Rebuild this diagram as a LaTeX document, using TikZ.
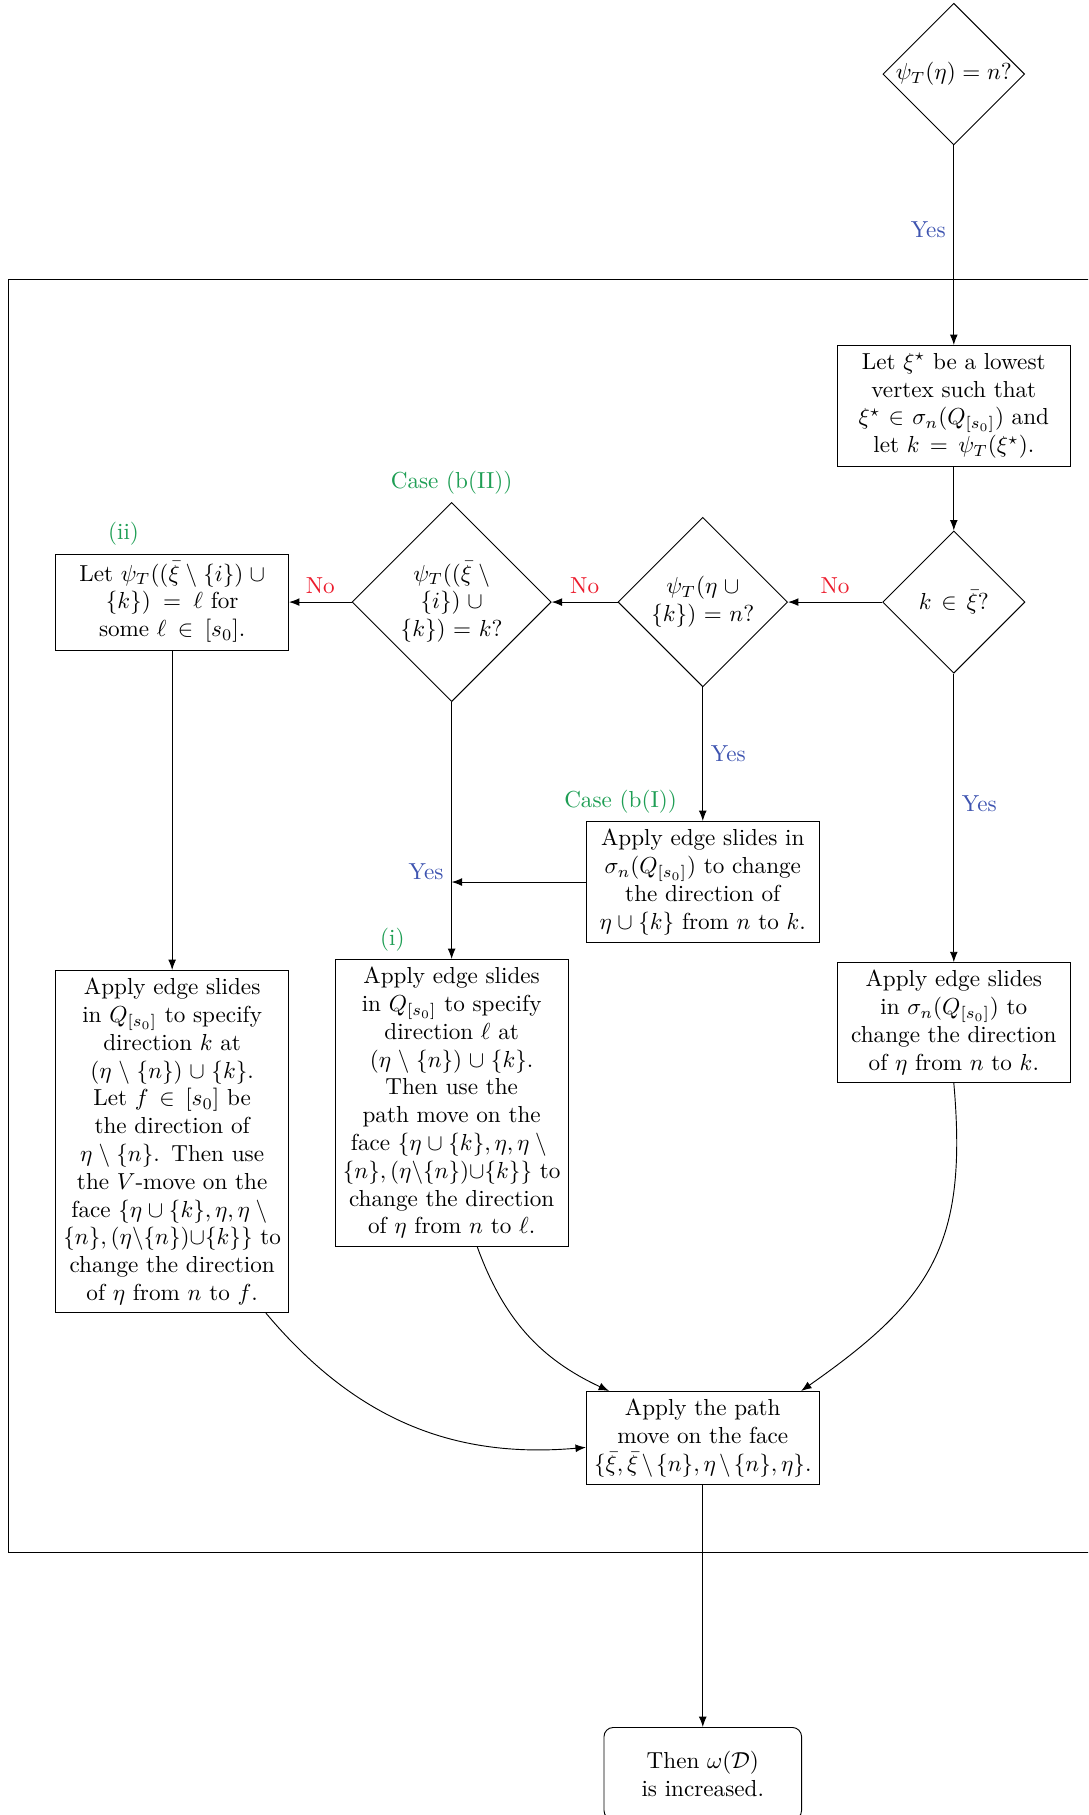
\documentclass[tikz,border=0pt]{standalone}
\usepackage{amsmath}
\usepackage{amssymb}
\usepackage{xcolor}
\usepackage{tikz}
\usetikzlibrary{shapes,arrows,arrows.meta,positioning,calc}

\definecolor{yesblue}{RGB}{62,84,176}
\definecolor{nored}{RGB}{236,28,45}
\definecolor{casegreen}{RGB}{30,158,84}

\begin{document}
\begin{tikzpicture}[
    node distance=1cm,
    box/.style={rectangle, draw, text width=3.3cm, text centered},
    decision/.style={diamond, draw, aspect=1, inner sep=0pt, text width=1.8cm, text centered},
    endbox/.style={rectangle, draw, rounded corners, text width=2cm, text centered, minimum width=3cm, minimum height=1.4cm},
    arrow/.style={->, >={Latex[length=4.5pt, width=3.4pt]}},
    yeslabel/.style={text=yesblue},
    nolabel/.style={text=nored},
    caselabel/.style={text=casegreen}
]
\useasboundingbox (0,0) rectangle (470pt,-784pt);
\clip (0,0) rectangle (470pt,-784pt);

% frame round the inner loop
\draw (3.5pt,-120.7pt) rectangle (480pt,-670.4pt);

\node[decision] (psin) at (412pt,-32pt) {$\psi_T(\eta)=n?$};
\node[box, below=3.03cm of psin] (lowest) {Let $\xi^\star$ be a lowest vertex such that $\xi^\star\in\sigma_n(Q_{[s_0]})$ and let $k=\psi_T(\xi^\star)$.};
\node[decision, below=0.97cm of lowest] (inxi) {$k\in\bar{\xi}?$};
\node[decision, left=1.43cm of inxi] (unionk) {$\psi_T(\eta\cup\{k\})=n?$};
\node[decision, left=1.0cm of unionk, label={[caselabel]above:Case (b(II))}] (caseII) {$\psi_T((\bar{\xi}\setminus\{i\})\cup\{k\})=k?$};
\node[box, left=0.95cm of caseII, label={[caselabel, xshift=-21pt]above:(ii)}] (letell) {Let $\psi_T((\bar{\xi}\setminus\{i\})\cup\{k\})=\ell$ for some $\ell\in[s_0]$.};

\node[box, below=2.03cm of unionk, label={[caselabel, xshift=-35.5pt]above:Case (b(I))}] (caseI) {Apply edge slides in $\sigma_n(Q_{[s_0]})$ to change the direction of $\eta\cup\{k\}$ from $n$ to $k$.};
\node[box, below=3.9cm of caseII, label={[caselabel, xshift=-25.6pt]above:(i)}] (pathell) {Apply edge slides\\ in $Q_{[s_0]}$ to specify\\ direction $\ell$ at\\ $(\eta\setminus\{n\})\cup\{k\}$.\\ Then use the\\ path move on the\\ face $\{\eta\cup\{k\},\eta,\eta\setminus{}$\\ \makebox[3.3cm]{$\{n\},(\eta{\setminus}\{n\}){\cup}\{k\}\}$ to}\\ change the direction\\ of $\eta$ from $n$ to $\ell$.};
\node[box, below=4.85cm of letell] (vmove) {Apply edge slides\\ in $Q_{[s_0]}$ to specify\\ direction $k$ at\\ $(\eta\setminus\{n\})\cup\{k\}$.\\ Let $f\in[s_0]$ be\\ the direction of\\ $\eta\setminus\{n\}$. Then use\\ the $V$-move on the\\ face $\{\eta\cup\{k\},\eta,\eta\setminus{}$\\ \makebox[3.3cm]{$\{n\},(\eta{\setminus}\{n\}){\cup}\{k\}\}$ to}\\ change the direction\\ of $\eta$ from $n$ to $f$.};
\node[box, below=4.38cm of inxi] (slidek) {Apply edge slides in $\sigma_n(Q_{[s_0]})$ to change the direction of $\eta$ from $n$ to $k$.};
\node[box, below=6.8cm of caseI] (pathface) {Apply the path move on the face $\{\bar{\xi},\bar{\xi}\setminus\{n\},\eta\setminus\{n\},\eta\}$.};
\node[endbox, below=3.67cm of pathface] (result) {Then $\omega(\mathcal{D})$ is increased.};

\draw[arrow] (psin) -- node[yeslabel, left, pos=0.42] {Yes} (lowest);
\draw[arrow] (lowest) -- (inxi);
\draw[arrow] (inxi) -- node[nolabel, above] {No} (unionk);
\draw[arrow] (unionk) -- node[nolabel, above] {No} (caseII);
\draw[arrow] (caseII) -- node[nolabel, above] {No} (letell);
\draw[arrow] (unionk) -- node[yeslabel, right] {Yes} (caseI);
\draw[arrow] (inxi) -- node[yeslabel, right, pos=0.45] {Yes} (slidek);
\draw[arrow] (caseII) -- node[yeslabel, left, pos=0.66] {Yes} (pathell);
\draw[arrow] (caseI.west) -- (caseI.west -| caseII.south);
\draw[arrow] (letell) -- (vmove);
\draw[arrow] ([xshift=-10pt]vmove.south east) to[out=-50, in=185] ([yshift=-4pt]pathface.west);
\draw[arrow] ([xshift=11pt]pathell.south) to[out=-70, in=155] ([xshift=10pt]pathface.north west);
\draw[arrow] (slidek.south) to[out=-85, in=35, looseness=1.2] ([xshift=-8pt]pathface.north east);
\draw[arrow] (pathface) -- (result);

\end{tikzpicture}
\end{document}
